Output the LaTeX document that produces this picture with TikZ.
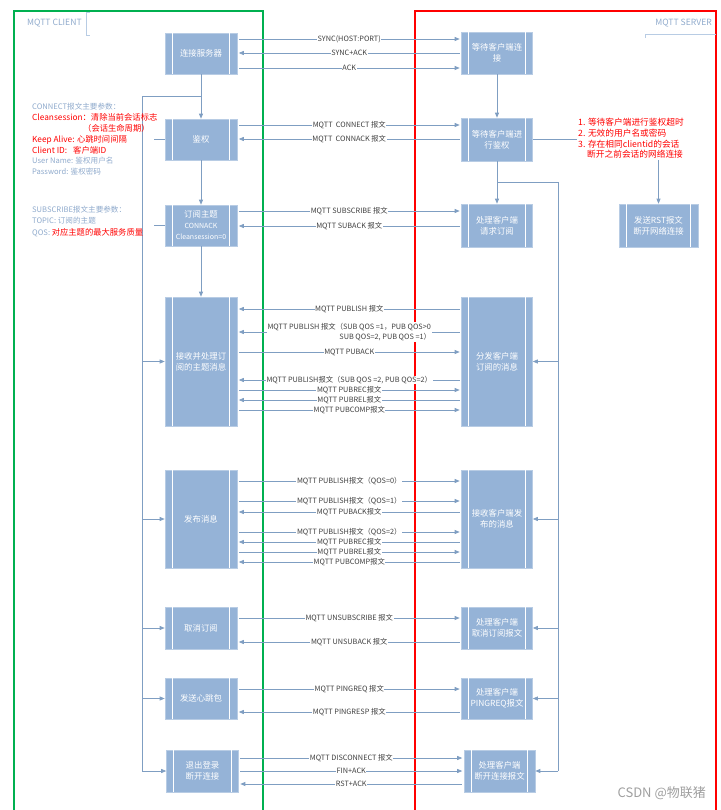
\documentclass[tikz,border=0pt]{standalone}
\usepackage{fontspec}
\setmainfont{Noto Sans CJK SC}
\usetikzlibrary{arrows.meta,calc}
\definecolor{boxfill}{HTML}{95B3D7}
\definecolor{boxedge}{HTML}{B8CCE4}
\definecolor{conn}{HTML}{7F9EC2}
\definecolor{notegray}{HTML}{8FAACC}
\definecolor{lblcol}{HTML}{404040}
\definecolor{clientgreen}{HTML}{00B050}
\definecolor{serverred}{HTML}{FF0000}
\tikzset{
  proc/.style={fill=boxfill, draw=boxedge, line width=0.6pt, text=white, align=center,
    font=\fontsize{8.4}{11}\selectfont, inner sep=0pt},
  conline/.style={draw=conn, line width=0.7pt},
  arr/.style={conline, -{Triangle[length=5pt,width=4pt]}},
  msgline/.style={conline, shorten <=1.5pt, shorten >=1.5pt},
  lbl/.style={fill=white, inner sep=0.6pt, text=lblcol, font=\fontsize{7.3}{10.5}\selectfont, midway},
  noteg/.style={anchor=base west, text=notegray, font=\fontsize{7.6}{9}\selectfont, inner sep=0pt},
  noter/.style={anchor=base west, text=serverred, font=\fontsize{8.3}{10}\selectfont, inner sep=0pt},
}
\newcommand\pbox[6]{%
  \node[proc, minimum width=#4pt, minimum height=#5pt] (#1) at (#2,#3) {#6};
  \draw[white, line width=0.8pt] ([xshift=7.5pt]#1.north west) -- ([xshift=7.5pt]#1.south west);
  \draw[white, line width=0.8pt] ([xshift=-7.5pt]#1.north east) -- ([xshift=-7.5pt]#1.south east);
}
\newcommand\msgR[4]{\draw[msgline,-{Triangle[length=5pt,width=4pt]}] (#1.east |- 0,#3) -- (#2.west |- 0,#3) node[lbl]{#4};}
\newcommand\msgL[4]{\draw[msgline,{Triangle[length=5pt,width=4pt]}-] (#1.east |- 0,#3) -- (#2.west |- 0,#3) node[lbl]{#4};}
\begin{document}
\begin{tikzpicture}[x=1pt,y=-1pt]
\useasboundingbox (0,0) rectangle (720,810);
% swimlanes
\draw[clientgreen, line width=2pt] (14,815) -- (14,11) -- (263,11) -- (263,815);
\draw[serverred, line width=2pt] (415,815) -- (415,11) -- (716,11) -- (716,815);
\node[anchor=west, text=notegray, font=\fontsize{8.6}{10}\selectfont, inner sep=0pt] (clientlbl) at (27,23) {MQTT CLIENT};
\draw[boxedge, line width=0.8pt] (90,12) -- (86,12) -- (86,35) -- (90,35);
\node[anchor=east, text=notegray, font=\fontsize{8.6}{10}\selectfont, inner sep=0pt] (serverlbl) at (712,23) {MQTT SERVER};
\draw[boxedge, line width=0.8pt] (645,38) -- (645,34) -- (716,34);

% boxes left
\pbox{L1}{201}{53.5}{72}{41}{连接服务器}
\pbox{L2}{201}{139.5}{72}{41}{鉴权}
\pbox{L3}{201}{225.5}{72}{41}{订阅主题\\{\fontsize{7}{10}\selectfont CONNACK}\\{\fontsize{7}{10}\selectfont Cleansession=0}}
\pbox{L4}{201}{361.5}{72}{129}{接收并处理订\\阅的主题消息}
\pbox{L5}{201}{519}{72}{98}{发布消息}
\pbox{L6}{201}{628}{72}{42}{取消订阅}
\pbox{L7}{201}{698.5}{72}{41}{发送心跳包}
\pbox{L8}{202.5}{771}{72}{42}{退出登录\\断开连接}
% boxes right
\pbox{R1}{497}{53}{71}{42}{等待客户端连\\接}
\pbox{R2}{497}{139.5}{71}{43}{等待客户端进\\行鉴权}
\pbox{R3}{497}{225.5}{71}{43}{处理客户端\\请求订阅}
\pbox{RST}{658.5}{225.5}{79}{43}{发送RST报文\\断开网络连接}
\pbox{R4}{497}{361.5}{71}{129}{分发客户端\\订阅的消息}
\pbox{R5}{497}{519}{71}{98}{接收客户端发\\布的消息}
\pbox{R6}{497}{628}{71}{42}{处理客户端\\取消订阅报文}
\pbox{R7}{497}{698.5}{71}{41}{处理客户端\\PINGREQ报文}
\pbox{R8}{499.5}{771}{71}{42}{处理客户端\\断开连接报文}

% left flow
\coordinate (jl) at (201,96);
\coordinate (tl) at (142,96);
\coordinate (bl) at (142,771);
\draw[arr] (L1.south) -- (L2.north);
\draw[arr] (L2.south) -- (L3.north);
\draw[arr] (L3.south) -- (L4.north);
\draw[conline] (jl) -- (tl) -- (bl);
\draw[arr] (tl |- L4.west) -- (L4.west);
\draw[arr] (tl |- L5.west) -- (L5.west);
\draw[arr] (tl |- L6.west) -- (L6.west);
\draw[arr] (tl |- L7.west) -- (L7.west);
\draw[arr] (tl |- L8.west) -- (L8.west);
\draw[conline] (L2.west) -- ++(-11,0);
\draw[conline] (L3.west) -- ++(-11,0);

% right flow
\coordinate (jr) at (497,182);
\coordinate (tr) at (558,182);
\coordinate (br) at (558,771);
\draw[arr] (R1.south) -- (R2.north);
\draw[arr] (R2.south) -- (R3.north);
\draw[conline] (jr) -- (tr) -- (br);
\draw[arr] (tr |- R4.east) -- (R4.east);
\draw[arr] (tr |- R5.east) -- (R5.east);
\draw[arr] (tr |- R6.east) -- (R6.east);
\draw[arr] (tr |- R7.east) -- (R7.east);
\draw[arr] (tr |- R8.east) -- (R8.east);
\draw[arr] (R2.east) -| (RST.north);
\node[anchor=north west, fill=white, align=left, text=serverred, font=\fontsize{8.7}{10.8}\selectfont, inner sep=1pt] (rnote) at (577,117)
  {1. 等待客户端进行鉴权超时\\2. 无效的用户名或密码\\3. 存在相同clientid的会话\\\hspace*{9pt}断开之前会话的网络连接};

% messages
\msgR{L1}{R1}{39}{SYNC(HOST:PORT)}
\msgL{L1}{R1}{53}{SYNC+ACK}
\msgR{L1}{R1}{68}{ACK}
\msgR{L2}{R2}{125}{MQTT\ \ CONNECT 报文}
\msgL{L2}{R2}{139}{MQTT\ \ CONNACK 报文}
\msgR{L3}{R3}{211}{MQTT SUBSCRIBE 报文}
\msgL{L3}{R3}{226}{MQTT SUBACK 报文}
\msgL{L4}{R4}{309}{MQTT PUBLISH 报文}
\draw[msgline,{Triangle[length=5pt,width=4pt]}-] (L4.east |- 0,332) -- (R4.west |- 0,332)
  node[lbl, align=right]{MQTT PUBLISH 报文（SUB QOS =1，PUB QOS>0\\SUB QOS=2, PUB QOS =1）};
\msgR{L4}{R4}{352}{MQTT PUBACK}
\msgL{L4}{R4}{380}{MQTT PUBLISH报文（SUB QOS =2, PUB QOS=2）}
\msgR{L4}{R4}{390}{MQTT PUBREC报文}
\msgL{L4}{R4}{400}{MQTT PUBREL报文}
\msgR{L4}{R4}{410}{MQTT PUBCOMP报文}
\msgR{L5}{R5}{481}{MQTT PUBLISH报文（QOS=0）}
\msgR{L5}{R5}{501}{MQTT PUBLISH报文（QOS=1）}
\msgL{L5}{R5}{512}{MQTT PUBACK报文}
\msgR{L5}{R5}{532}{MQTT PUBLISH报文（QOS=2）}
\msgL{L5}{R5}{542}{MQTT PUBREC报文}
\msgR{L5}{R5}{552}{MQTT PUBREL报文}
\msgL{L5}{R5}{562}{MQTT PUBCOMP报文}
\msgR{L6}{R6}{618}{MQTT UNSUBSCRIBE 报文}
\msgL{L6}{R6}{642}{MQTT UNSUBACK 报文}
\msgR{L7}{R7}{689}{MQTT PINGREQ 报文}
\msgL{L7}{R7}{712}{MQTT PINGRESP 报文}
\msgR{L8}{R8}{758}{MQTT DISCONNECT 报文}
\msgR{L8}{R8}{771}{FIN+ACK}
\msgL{L8}{R8}{784}{RST+ACK}

% notes left
\node[noteg] (n1) at (32,110) {CONNECT报文主要参数：};
\node[noter] (n2) at (32,121) {Cleansession：清除当前会话标志};
\node[noter] (n3) at (83,132) {（会话生命周期）};
\node[noter] (n4) at (32,143) {Keep Alive: 心跳时间间隔};
\node[noter] (n5) at (32,154) {Client ID:};
\node[noter] (n6) at (73,154) {客户端ID};
\node[noteg] (n7) at (32,164) {User Name: 鉴权用户名};
\node[noteg] (n8) at (32,175) {Password: 鉴权密码};
\node[noteg] (n9) at (32,213) {SUBSCRIBE报文主要参数：};
\node[noteg] (n10) at (32,223) {TOPIC: 订阅的主题};
\node[noteg] (n11) at (32,235) {QOS: {\color{serverred}\fontsize{8.3}{10}\selectfont 对应主题的最大服务质量}};

% watermark
\node[anchor=east, text=gray!75, font=\fontsize{13}{15}\selectfont, inner sep=0pt] (wm) at (706,793) {CSDN @物联猪};
\end{tikzpicture}
\end{document}
